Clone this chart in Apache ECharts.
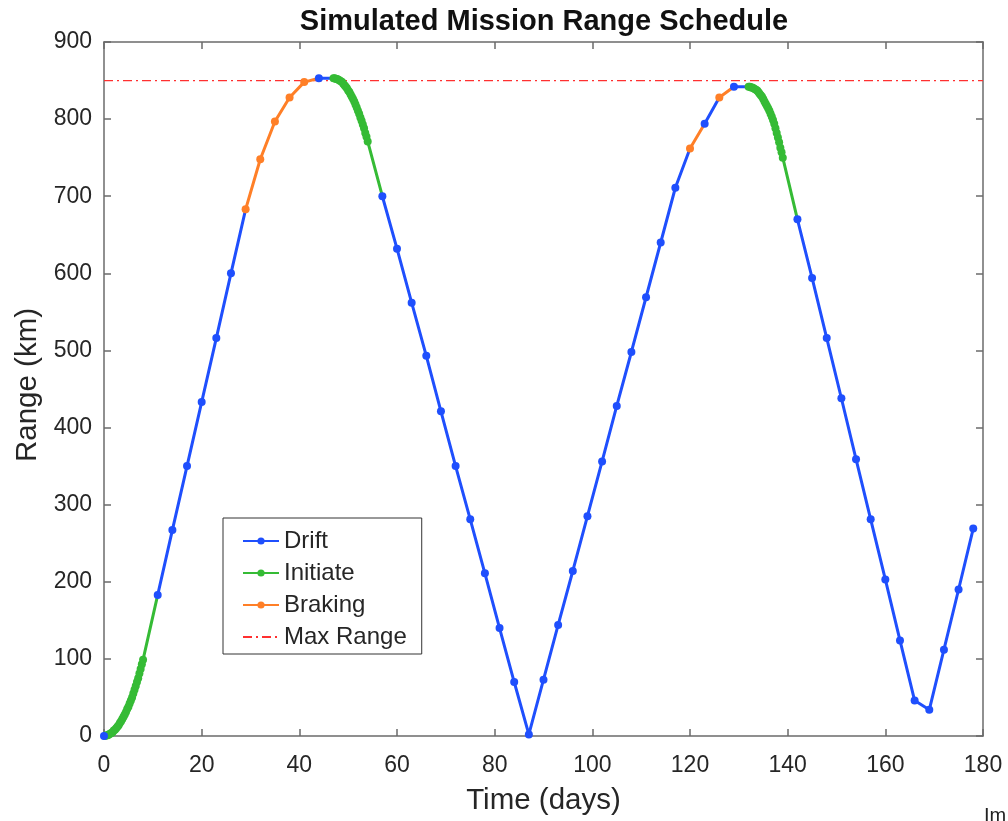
<!DOCTYPE html>
<html>
<head>
<meta charset="utf-8">
<script src="https://cdn.jsdelivr.net/npm/echarts@6/dist/echarts.min.js"></script>
<style>
html,body{margin:0;padding:0;background:#fff;}
#chart{width:1008px;height:821px;}
</style>
</head>
<body>
<div id="chart"></div>
<script>
// Time (days) and range (km) of each simulated point
var days = [
  0,
  0.25, 0.5, 0.75, 1, 1.25, 1.5, 1.75, 2, 2.25, 2.5, 2.75, 3, 3.25, 3.5, 3.75, 4,
  4.25, 4.5, 4.75, 5, 5.25, 5.5, 5.75, 6, 6.25, 6.5, 6.75, 7, 7.25, 7.5, 7.75, 8,
  11, 14, 17, 20, 23, 26,
  29, 32, 35, 38, 41,
  44,
  47, 47.25, 47.5, 47.75, 48, 48.25, 48.5, 48.75, 49, 49.25, 49.5, 49.75, 50, 50.25, 50.5,
  50.75, 51, 51.25, 51.5, 51.75, 52, 52.25, 52.5, 52.75, 53, 53.25, 53.5, 53.75, 54,
  57, 60, 63, 66, 69, 72, 75, 78, 81, 84, 87, 90, 93, 96, 99, 102, 105, 108, 111, 114, 117,
  120, 123, 126, 129,
  132, 132.25, 132.5, 132.75, 133, 133.25, 133.5, 133.75, 134, 134.25, 134.5, 134.75, 135, 135.25, 135.5,
  135.75, 136, 136.25, 136.5, 136.75, 137, 137.25, 137.5, 137.75, 138, 138.25, 138.5, 138.75, 139,
  142, 145, 148, 151, 154, 157, 160, 163, 166, 169, 172, 175, 178
];
var rangeKm = [
  0,
  0, 1, 1, 2, 3, 4, 5, 7, 8, 10, 12, 14, 17, 19, 22, 25,
  28, 31, 35, 38, 42, 46, 50, 55, 60, 65, 70, 75, 81, 87, 93, 99,
  183, 267, 350, 433, 516, 600,
  683, 748, 797, 828, 848,
  853,
  853, 853, 852, 852, 851, 850, 849, 848, 846, 844, 842, 840, 837, 835, 832,
  829, 826, 823, 819, 815, 811, 807, 802, 798, 793, 788, 782, 777, 771,
  700, 632, 562, 493, 421, 350, 281, 211, 140, 70, 2, 73, 144, 214, 285, 356, 428, 498, 569, 640, 711,
  762, 794, 828, 842,
  842, 842, 841, 841, 840, 839, 838, 837, 835, 833, 831, 829, 826, 823, 820,
  817, 814, 811, 807, 803, 799, 794, 788, 782, 776, 770, 763, 757, 750,
  670, 594, 516, 438, 359, 281, 203, 124, 46, 34, 112, 190, 269
];
// Phase of consecutive points: [phase code, number of points]
var phaseRuns = [
  ['D', 1], ['I', 32], ['D', 6], ['B', 5], ['D', 1], ['I', 29], ['D', 21],
  ['B', 1], ['D', 1], ['B', 1], ['D', 1], ['I', 29], ['D', 13]
];
var phaseNames = {D: 'Drift', I: 'Initiate', B: 'Braking'};
var legendNames = ['Drift', 'Initiate', 'Braking', 'Max Range'];
var maxRangeDays = [0, 180];
var maxRangeValue = [850, 850];
var xTicks = {min: 0, max: 180, interval: 20};
var yTicks = {min: 0, max: 900, interval: 100};

var colors = {D: '#1f4ffd', I: '#35bb35', B: '#ff7f27'};

var phase = [];
phaseRuns.forEach(function (r) { for (var k = 0; k < r[1]; k++) phase.push(r[0]); });

function lineData(code) {
  var out = [];
  for (var i = 0; i < days.length; i++) {
    if (phase[i] !== code) continue;
    out.push([days[i], rangeKm[i]]);
    if (i + 1 < days.length && phase[i + 1] !== code) {
      out.push([days[i + 1], rangeKm[i + 1]]);
      out.push(['-', '-']);
    }
  }
  return out;
}
function markerData(code) {
  var out = [];
  for (var i = 0; i < days.length; i++) {
    if (phase[i] === code) out.push([days[i], rangeKm[i]]);
  }
  return out;
}

function lineSeries(code) {
  return {
    name: phaseNames[code],
    type: 'line',
    data: lineData(code),
    z: 2,
    symbol: 'circle',
    symbolSize: 8,
    showSymbol: false,
    connectNulls: false,
    color: colors[code],
    lineStyle: {width: 3, color: colors[code]},
    itemStyle: {color: colors[code]},
    emphasis: {disabled: true},
    animation: false
  };
}
function markerSeries(code) {
  return {
    name: phaseNames[code],
    type: 'scatter',
    data: markerData(code),
    z: 3,
    symbol: 'circle',
    symbolSize: 8,
    color: colors[code],
    itemStyle: {color: colors[code], opacity: 1},
    emphasis: {disabled: true},
    animation: false
  };
}

var textColor = '#262626';
var axisColor = '#6b6b6b';
var font = 'Liberation Sans, Arial, Helvetica, sans-serif';

function axisCommon(extra) {
  var base = {
    type: 'value',
    axisLine: {show: true, onZero: false, lineStyle: {color: axisColor, width: 1.5}},
    axisTick: {show: true, inside: true, length: 7, lineStyle: {color: axisColor, width: 1.5}},
    splitLine: {show: false},
    axisLabel: {show: false}
  };
  for (var k in extra) base[k] = extra[k];
  return base;
}

var chart = echarts.init(document.getElementById('chart'), null, {renderer: 'canvas'});
chart.setOption({
  animation: false,
  backgroundColor: '#fff',
  textStyle: {fontFamily: font},
  title: {
    text: 'Simulated Mission Range Schedule',
    left: 539,
    textAlign: 'center',
    top: 2,
    textStyle: {fontSize: 29, fontWeight: 'bold', color: '#111', fontFamily: font}
  },
  grid: {left: 104, right: 25, top: 42, bottom: 83, containLabel: false},
  legend: {
    orient: 'vertical',
    left: 223,
    top: 518,
    data: [
      legendNames[0], legendNames[1], legendNames[2],
      {name: legendNames[3], itemStyle: {opacity: 0}}
    ],
    itemWidth: 36,
    itemHeight: 9,
    itemGap: 8,
    padding: [11, 15, 5, 19],
    backgroundColor: '#fff',
    borderColor: '#333',
    borderWidth: 1,
    borderRadius: 0,
    selectedMode: false,
    textStyle: {fontSize: 24, color: textColor, fontFamily: font, padding: [0, 0, 0, 0]}
  },
  xAxis: [
    axisCommon(Object.assign({
      position: 'bottom',
      name: 'Time (days)',
      nameLocation: 'middle',
      nameGap: 50,
      nameTextStyle: {fontSize: 29.5, color: textColor, fontFamily: font},
      axisLabel: {show: true, fontSize: 23, color: textColor, margin: 18, fontFamily: font}
    }, xTicks)),
    axisCommon(Object.assign({position: 'top'}, xTicks))
  ],
  yAxis: [
    axisCommon(Object.assign({
      position: 'left',
      name: 'Range (km)',
      nameLocation: 'middle',
      nameGap: 55,
      nameTextStyle: {fontSize: 29.5, color: textColor, fontFamily: font, padding: [0, 0, 0, 8]},
      axisLabel: {show: true, fontSize: 23, color: textColor, margin: 12, fontFamily: font}
    }, yTicks)),
    axisCommon(Object.assign({position: 'right'}, yTicks))
  ],
  series: [
    {
      name: 'Max Range',
      type: 'line',
      data: maxRangeDays.map(function (d, i) { return [d, maxRangeValue[i]]; }),
      symbol: 'none',
      z: 1,
      color: '#ff3030',
      lineStyle: {width: 1.3, color: '#ff3030', type: [9, 4, 2, 4]},
      emphasis: {disabled: true},
      animation: false
    },
    lineSeries('I'), lineSeries('B'), lineSeries('D'),
    markerSeries('I'), markerSeries('B'), markerSeries('D')
  ],
  graphic: [
    {
      type: 'text',
      left: 984,
      top: 806,
      style: {text: 'Im', fontSize: 20, fill: '#222', fontFamily: font}
    }
  ]
});
</script>
</body>
</html>
